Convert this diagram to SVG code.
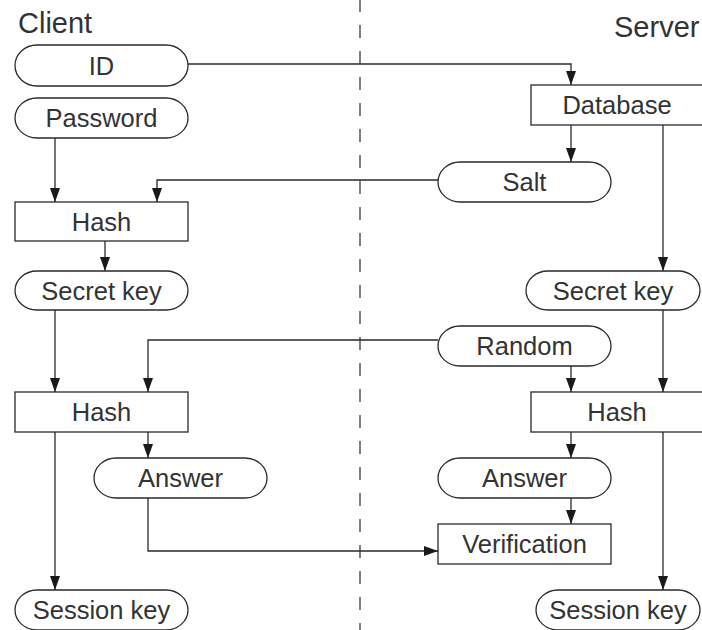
<svg xmlns="http://www.w3.org/2000/svg" width="702" height="630" viewBox="0 0 702 630">
<style>
.n{fill:#fff;stroke:#2a2a2a;stroke-width:1.3}
.t{font-family:"Liberation Sans",Arial,sans-serif;font-size:25.5px;fill:#333;text-anchor:middle}
.h{font-family:"Liberation Sans",Arial,sans-serif;font-size:29px;fill:#333}
.c{fill:none;stroke:#2a2a2a;stroke-width:1.3;marker-end:url(#a)}
</style>
<defs>
<marker id="a" viewBox="0 0 14 10" markerWidth="14" markerHeight="10" refX="14" refY="5" orient="auto" markerUnits="userSpaceOnUse">
<path d="M0,0 L14,5 L0,10 z" fill="#1a1a1a"/>
</marker>
</defs>
<rect width="702" height="630" fill="#fff"/>
<line x1="360" y1="0" x2="360" y2="630" stroke="#2a2a2a" stroke-width="1.2" stroke-dasharray="13 13" stroke-dashoffset="1"/>
<text class="h" x="18" y="33">Client</text>
<text class="h" x="614" y="37">Server</text>
<g id="connectors">
<path class="c" d="M188,64 H571 V85"/>
<path class="c" d="M571,125 V162"/>
<path class="c" d="M663,125 V271"/>
<path class="c" d="M438,180 H157 V202"/>
<path class="c" d="M55,138 V202"/>
<path class="c" d="M105,241 V271"/>
<path class="c" d="M55,310 V392"/>
<path class="c" d="M438,340 H148 V392"/>
<path class="c" d="M571,366 V392"/>
<path class="c" d="M663,310 V392"/>
<path class="c" d="M148,432 V458"/>
<path class="c" d="M55,432 V590"/>
<path class="c" d="M148,498 V551 H438"/>
<path class="c" d="M571,432 V458"/>
<path class="c" d="M571,498 V524"/>
<path class="c" d="M663,432 V590"/>
</g>
<g id="id"><rect class="n" x="15" y="45" width="173" height="41" rx="22" ry="20.5"/><text class="t" x="101.5" y="74.5">ID</text></g>
<g id="password"><rect class="n" x="15" y="98" width="173" height="40" rx="22" ry="20"/><text class="t" x="101.5" y="127">Password</text></g>
<g id="hash-client-1"><rect class="n" x="15" y="202" width="173" height="39"/><text class="t" x="101.5" y="230.5">Hash</text></g>
<g id="secret-key-client"><rect class="n" x="15" y="271" width="173" height="39" rx="22" ry="19.5"/><text class="t" x="101.5" y="299.5">Secret key</text></g>
<g id="hash-client-2"><rect class="n" x="15" y="392" width="173" height="40"/><text class="t" x="101.5" y="421">Hash</text></g>
<g id="answer-client"><rect class="n" x="94" y="458" width="173" height="40" rx="22" ry="20"/><text class="t" x="180.5" y="487">Answer</text></g>
<g id="session-key-client"><rect class="n" x="15" y="590" width="173" height="40" rx="22" ry="20"/><text class="t" x="101.5" y="619">Session key</text></g>
<g id="database"><rect class="n" x="531" y="85" width="172" height="40"/><text class="t" x="617" y="114">Database</text></g>
<g id="salt"><rect class="n" x="438" y="162" width="173" height="40" rx="22" ry="20"/><text class="t" x="524.5" y="191">Salt</text></g>
<g id="secret-key-server"><rect class="n" x="526" y="271" width="174" height="39" rx="22" ry="19.5"/><text class="t" x="613" y="299.5">Secret key</text></g>
<g id="random"><rect class="n" x="438" y="326" width="173" height="40" rx="22" ry="20"/><text class="t" x="524.5" y="355">Random</text></g>
<g id="hash-server"><rect class="n" x="531" y="392" width="172" height="40"/><text class="t" x="617" y="421">Hash</text></g>
<g id="answer-server"><rect class="n" x="438" y="458" width="173" height="40" rx="22" ry="20"/><text class="t" x="524.5" y="487">Answer</text></g>
<g id="verification"><rect class="n" x="438" y="524" width="173" height="40"/><text class="t" x="524.5" y="553">Verification</text></g>
<g id="session-key-server"><rect class="n" x="536" y="590" width="164" height="40" rx="22" ry="20"/><text class="t" x="618" y="619">Session key</text></g>
</svg>
